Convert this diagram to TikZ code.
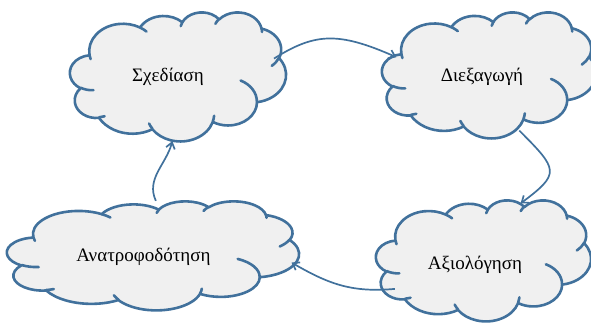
\documentclass[tikz,border=0pt]{standalone}
\usepackage{fontspec}
\setmainfont{Liberation Serif}
\usetikzlibrary{shapes.geometric,arrows.meta}
\definecolor{cloudline}{HTML}{41719C}
\definecolor{cloudfill}{HTML}{F0F0F0}
\tikzset{
  cloudshape/.style={draw=cloudline, fill=cloudfill, line width=2.6pt, line join=round},
  cloudinner/.style={draw=cloudline, line width=2.6pt, line cap=round},
  cloudarea/.style={ellipse, draw=none, inner sep=0pt},
  cloudtext/.style={font=\fontsize{19}{22}\selectfont, inner sep=0pt},
  link/.style={draw=cloudline, line width=1.7pt, -{Straight Barb[length=6pt,width=9pt]}}
}
% arc in the manner of DrawingML arcTo (visual angles), y pointing down
\newcommand{\oarc}[4]{arc[x radius=#1, y radius=#2,
  start angle={atan2(#1*sin(#3),#2*cos(#3))},
  delta angle={mod(atan2(#1*sin(#3+#4),#2*cos(#3+#4))-atan2(#1*sin(#3),#2*cos(#3))+720,360)}]}
\newcommand{\officecloud}[4]{%
  \pgfmathsetmacro{\ocx}{#3/432}\pgfmathsetmacro{\ocy}{#4/432}%
  \begin{scope}[shift={(#1pt,#2pt)}, x=\ocx pt, y=-\ocy pt]
    \draw[cloudshape] (39,143.7)
      \oarc{67.53}{91.90}{-190.4875}{123.7805}
      \oarc{53.33}{72.67}{-144.1024}{89.9452}
      \oarc{43.65}{59.45}{-145.8079}{99.7230}
      \oarc{48.57}{65.95}{-130.9861}{117.2417}
      \oarc{53.33}{72.73}{-78.7089}{109.0269}
      \oarc{67.75}{92.20}{-46.2673}{130.2690}
      \oarc{57.85}{78.67}{0.6250}{114.0333}
      \oarc{67.52}{92.15}{22.4516}{115.1726}
      \oarc{77.20}{105.43}{66.2426}{75.7110}
      \oarc{43.60}{59.18}{-274.9421}{146.7356}
      \oarc{43.45}{59.45}{-246.8285}{152.5189}
      -- cycle;
    \draw[cloudinner]
      (46.93,261.77) \oarc{43.45}{59.45}{86.742}{26.4295}
      (69.28,348.99) \oarc{43.60}{59.18}{73.6105}{11.4475}
      (164.78,390.90) \oarc{67.52}{92.15}{137.6242}{14.0811}
      (288.27,347.51) \oarc{67.52}{92.15}{6.4533}{15.9984}
      (341.29,229.54) \oarc{57.85}{78.67}{-70.2924}{70.9174}
      (417.98,153.54) \oarc{53.33}{72.73}{30.3180}{27.7515}
      (383.24,54.26) \oarc{48.57}{65.95}{-13.7443}{14.8589}
      (290.78,39.52) \oarc{48.57}{65.95}{-149.1815}{18.1954}
      (221.41,47.20) \oarc{43.65}{59.45}{-163.4943}{17.6864}
      (140.00,51.92) \oarc{67.53}{91.90}{-66.707}{12.3}
      (41.27,157.89) \oarc{67.53}{91.90}{157.65}{11.5};
  \end{scope}}
\begin{document}
\begin{tikzpicture}[x=1pt,y=1pt]
\useasboundingbox (0,0) rectangle (591,323);
% clouds (top-left corner x, top y, width, height)
\officecloud{70}{311}{216}{129}
\officecloud{382}{311}{214}{126}
\officecloud{376}{123}{215}{121}
\officecloud{7}{122}{292}{109}
% cloud areas for connectors
\node[cloudarea, minimum width=216pt, minimum height=129pt] (s) at (178,246.5) {};
\node[cloudarea, minimum width=214pt, minimum height=126pt] (d) at (489,248) {};
\node[cloudarea, minimum width=215pt, minimum height=121pt] (a) at (483.5,62.5) {};
\node[cloudarea, minimum width=292pt, minimum height=109pt] (f) at (153,67.5) {};
% texts
\node[cloudtext] (st) at (168,246) {Σχεδίαση};
\node[cloudtext] (dt) at (482,246) {Διεξαγωγή};
\node[cloudtext] (at) at (475,58) {Αξιολόγηση};
\node[cloudtext] (ft) at (143.5,66) {Ανατροφοδότηση};
% connectors
\draw[link, shorten <=-7pt, shorten >=-9pt] (s.12.5) .. controls +(35,22) and +(-50,22) .. (d.168.9);
\draw[link, shorten <=-6pt] (d.-60) .. controls +(35,-35) and +(40,30) .. (a.57.6);
\draw[link, shorten <=-6pt, shorten >=-6pt] (a.197.8) to[out=185,in=-30] (f.-4.8);
\draw[link] (f.87.6) to[out=115,in=-105] (s.265.5);
\end{tikzpicture}
\end{document}
